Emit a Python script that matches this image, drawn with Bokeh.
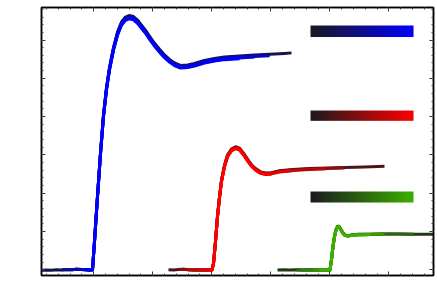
import numpy as np
from bokeh.plotting import figure
from bokeh.models import Range1d, LinearAxis, SingleIntervalTicker, LinearColorMapper, CustomJSTickFormatter
from bokeh.embed import file_html
from bokeh.resources import INLINE

# ---- data (x: time units, y: response units) ----
blue_x = [0.114, 0.198, 0.283, 0.368, 0.453, 0.537, 0.622, 0.707, 0.792, 0.876, 0.944, 0.978,
          1.012, 1.063, 1.114, 1.164, 1.215, 1.266, 1.334, 1.402, 1.469, 1.537, 1.597, 1.673,
          1.741, 1.808, 1.876, 1.944, 2.029, 2.114, 2.198, 2.283, 2.368, 2.469, 2.588, 2.706,
          2.875, 3.046, 3.215, 3.469, 3.724, 3.978, 4.232, 4.351]
blue_y = [-0.013, -0.005, -0.013, 0.0, -0.005, 0.008, 0.0, 0.013, 0.008, 0.0, -0.005, 0.0,
          0.739, 1.914, 3.037, 4.003, 4.708, 5.230, 5.752, 6.144, 6.405, 6.535, 6.572, 6.548,
          6.457, 6.326, 6.196, 6.039, 5.856, 5.700, 5.556, 5.439, 5.347, 5.282, 5.295, 5.334,
          5.413, 5.465, 5.504, 5.530, 5.556, 5.574, 5.595, 5.608]

red_x = [2.266, 2.351, 2.436, 2.520, 2.605, 2.690, 2.775, 2.859, 2.944, 3.003, 3.029, 3.063,
         3.097, 3.131, 3.164, 3.215, 3.266, 3.334, 3.402, 3.469, 3.537, 3.605, 3.673, 3.741,
         3.825, 3.910, 4.012, 4.147, 4.368, 4.656, 4.944, 5.249, 5.588, 5.927]
red_y = [0.0, -0.008, 0.008, 0.013, 0.0, -0.005, 0.0, -0.008, -0.005, -0.005, 0.164, 0.739,
         1.392, 1.888, 2.305, 2.697, 2.958, 3.115, 3.175, 3.141, 3.010, 2.854, 2.710, 2.611,
         2.527, 2.496, 2.507, 2.554, 2.585, 2.611, 2.627, 2.640, 2.655, 2.671]

green_x = [4.114, 4.215, 4.317, 4.419, 4.520, 4.622, 4.724, 4.825, 4.927, 5.003, 5.029, 5.054,
           5.080, 5.105, 5.131, 5.156, 5.181, 5.215, 5.249, 5.300, 5.368, 5.469, 5.673, 5.927,
           6.181, 6.436, 6.758]
green_y = [-0.005, 0.0, -0.008, 0.0, -0.005, 0.0, -0.005, 0.0, -0.005, -0.005, 0.269, 0.608,
           0.869, 1.039, 1.123, 1.123, 1.065, 0.974, 0.909, 0.883, 0.901, 0.916, 0.922, 0.927,
           0.927, 0.922, 0.922]

# individual traces of each group: span (start, end) and peak scale, darkest first
blue_starts = [0.11, 0.37, 0.54, 0.71, 0.86]
blue_ends = [4.36, 4.19, 4.02, 3.85, 3.64]
blue_scale = [1.010, 1.006, 1.003, 1.0, 0.997]

red_starts = [2.26, 2.38, 2.55, 2.72, 2.86]
red_ends = [5.93, 5.50, 4.99, 4.57, 4.10]
red_scale = [1.012, 1.008, 1.004, 1.0, 0.996]

green_starts = [4.11, 4.32, 4.49, 4.66, 4.79]
green_ends = [6.76, 6.44, 6.18, 5.93, 5.71]
green_scale = [1.010, 1.005, 1.0, 0.998, 0.995]

shade_fracs = [0.2, 0.5, 0.7, 0.85, 1.0]

DARK = (26, 26, 30)
BLUE = (0, 0, 255)
RED = (255, 0, 0)
GREEN = (60, 175, 0)


def mix(c0, c1, t):
    return "#%02x%02x%02x" % tuple(int(round(a + (b - a) * t)) for a, b in zip(c0, c1))


p = figure(width=436, height=296,
           x_range=Range1d(0.1136, 6.7576), y_range=Range1d(-0.149, 6.849),
           output_backend="svg", toolbar_location=None,
           min_border_left=41, min_border_right=3, min_border_top=7, min_border_bottom=21,
           background_fill_color="white", border_fill_color="white",
           x_axis_location=None, y_axis_location=None)
p.xgrid.visible = False
p.ygrid.visible = False
p.outline_line_color = "black"
p.outline_line_width = 1.5

blank = CustomJSTickFormatter(code="return ''")
for side in ["below", "above", "left", "right"]:
    ax = LinearAxis(ticker=SingleIntervalTicker(interval=1, num_minor_ticks=5), formatter=blank)
    p.add_layout(ax, side)
for ax in p.axis:
    ax.major_label_standoff = 0
    ax.major_tick_out = 0
    ax.minor_tick_out = 0
    ax.major_tick_in = 4
    ax.minor_tick_in = 2
    ax.major_tick_line_color = "#333333"
    ax.minor_tick_line_color = "#444444"
    ax.axis_line_color = "black"
    ax.axis_line_width = 1.5


def draw_group(xs, ys, starts, ends, scales, color):
    for s, e, k, f in zip(starts, ends, scales, shade_fracs):
        px = [x for x in xs if s <= x <= e]
        py = [y * k for x, y in zip(xs, ys) if s <= x <= e]
        p.line(px, py, line_color=mix(DARK, color, f), line_width=3, line_join="round")


draw_group(blue_x, blue_y, blue_starts, blue_ends, blue_scale, BLUE)
draw_group(red_x, red_y, red_starts, red_ends, red_scale, RED)
draw_group(green_x, green_y, green_starts, green_ends, green_scale, GREEN)

# gradient legend bars
bar_x0, bar_x1 = 4.673, 6.419
bars = [(BLUE, 6.078, 6.379), (RED, 3.890, 4.159), (GREEN, 1.757, 2.044)]
grad = np.linspace(0, 1, 256).reshape(1, 256)
for col, yb, yt in bars:
    pal = [mix(DARK, col, i / 255) for i in range(256)]
    cm = LinearColorMapper(palette=pal, low=0, high=1)
    p.image(image=[grad], x=bar_x0, y=yb, dw=bar_x1 - bar_x0, dh=yt - yb, color_mapper=cm)

open("out.html", "w").write(file_html(p, INLINE))
